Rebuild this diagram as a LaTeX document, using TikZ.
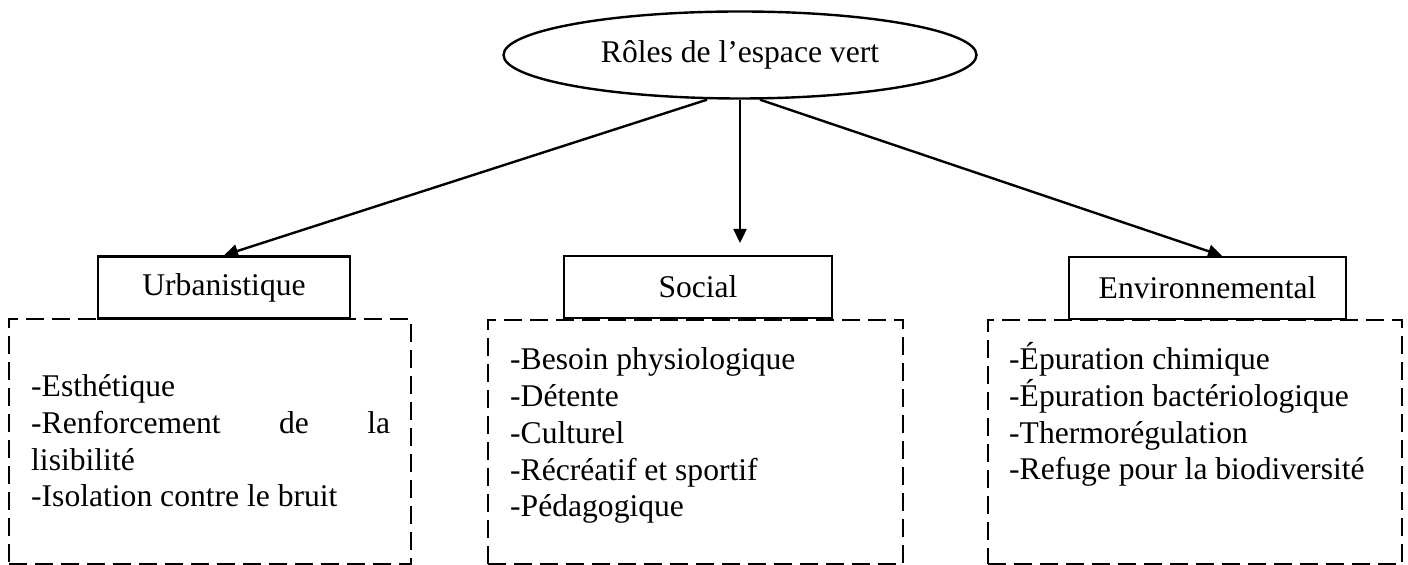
\documentclass[tikz,border=0pt]{standalone}
\usepackage{fontspec}
\setmainfont{Liberation Serif}
\usetikzlibrary{arrows.meta,shapes.geometric,calc}
\begin{document}
\begin{tikzpicture}[x=0.5pt,y=-0.5pt,
  every node/.style={font=\fontsize{15.8}{18.35}\selectfont},
  line width=1.2pt,
  ell/.style={draw,ellipse,minimum width=236.5pt,minimum height=43.5pt,inner sep=0pt},
  catbox/.style={draw,rectangle,minimum height=31pt,inner sep=0pt},
  dbox/.style={draw,rectangle,dash pattern=on 9pt off 4pt,inner sep=0pt},
  list/.style={anchor=base west,align=left,inner sep=0pt},
  arr/.style={-{Triangle[length=7pt,width=6.5pt]}}
]
\useasboundingbox (0,0) rectangle (1408,565);

% dashed content boxes
\node[dbox,minimum width=201pt,minimum height=122.5pt] (durb) at (210,441.5) {};
\node[dbox,minimum width=207.5pt,minimum height=122pt] (dsoc) at (695.5,442) {};
\node[dbox,minimum width=207pt,minimum height=122pt] (denv) at (1195,442) {};

% root
\node[ell] (root) at (740,55) {Rôles de l’espace vert};

% categories
\node[catbox,minimum width=126pt] (urb) at (224,287.5) {Urbanistique};
\node[catbox,minimum width=134pt] (soc) at (698,287) {Social};
\node[catbox,minimum width=138.5pt] (env) at (1207.5,288) {Environnemental};

% lists (base anchor = baseline of last line)
\node[list] (lurb) at (30,507) {-Esthétique\\\makebox[179.5pt][s]{-Renforcement de la}\\lisibilité\\-Isolation contre le bruit};
\node[list] (lsoc) at (509,516.8) {-Besoin physiologique\\-Détente\\-Culturel\\-Récréatif et sportif\\-Pédagogique};
\node[list] (lenv) at (1008,480) {-Épuration chimique\\-Épuration bactériologique\\-Thermorégulation\\-Refuge pour la biodiversité};

% connectors
\coordinate (urbstart) at ($(root.south)+(-33,0)$);
\coordinate (envstart) at ($(root.south)+(20,0)$);
\coordinate (soctip) at (root.south |- 0,243);
\coordinate (envtip) at ($(env.north)+(14.5,0)$);
\draw[arr] (urbstart) -- (urb.north);
\draw[arr] (root.south) -- (soctip);
\draw[arr] (envstart) -- (envtip);
\end{tikzpicture}
\end{document}
